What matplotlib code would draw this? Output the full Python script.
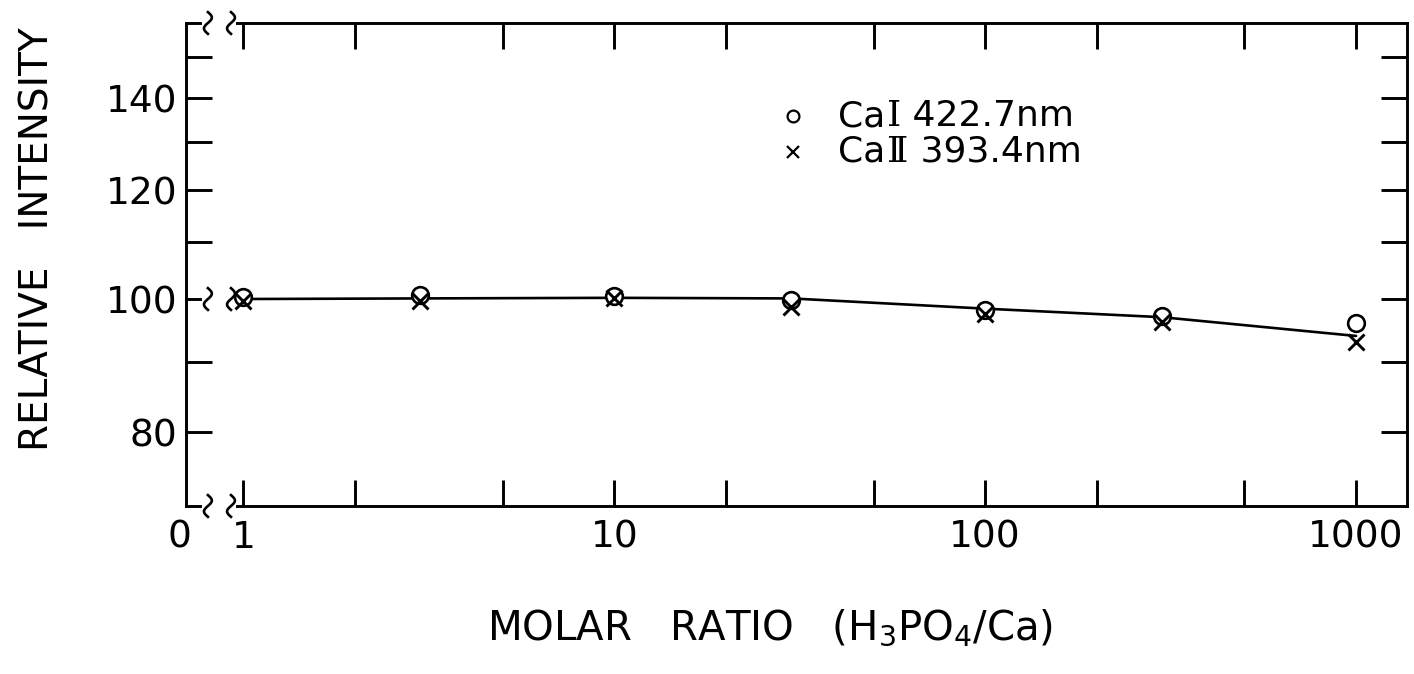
import numpy as np
import matplotlib
matplotlib.use("Agg")
import matplotlib.pyplot as plt
from matplotlib.ticker import FixedLocator, FixedFormatter, NullFormatter

# Molar ratio H3PO4/Ca and relative emission intensities
ratio = [1, 3, 10, 30, 100, 300, 1000]
ca1_422 = [100.3, 100.7, 100.5, 99.8, 98.1, 97.2, 96.0]
ca2_393 = [99.7, 99.6, 100.1, 98.6, 97.6, 96.2, 93.0]
trend = [100.0, 100.1, 100.2, 100.1, 98.4, 97.0, 94.0]

x_major = [1, 10, 100, 1000]
x_major_labels = ["1", "10", "100", "1000"]
x_minor = [2, 5, 20, 50, 200, 500]
y_major = [80, 100, 120, 140]
y_major_labels = ["80", "100", "120", "140"]
y_minor = [90, 110, 130, 150]

# key entries: element, ionisation stage, wavelength
key_element = ["Ca", "Ca"]
key_stage = ["Ⅰ", "Ⅱ"]
key_wavelength = [" 422.7nm", " 393.4nm"]

X_LIM = (0.70, 1369)
Y_LIM = (70.7, 158.8)

LW = 2.1
FS_TICK = 27
FS_KEY = 26

fig = plt.figure(figsize=(14.14, 6.74), dpi=100)
ax = fig.add_axes([0.1315, 0.2493, 0.8633, 0.7166])
ax.set_xscale("log")
ax.set_yscale("log")
ax.set_xlim(*X_LIM)
ax.set_ylim(*Y_LIM)

# smooth trend line and the two data series
ax.plot(ratio, trend, color="black", lw=1.9, zorder=2, solid_capstyle="round")
ax.plot(ratio, ca1_422, ls="none", marker="o", ms=12, mfc="white",
        mec="black", mew=1.9, zorder=3)
ax.plot(ratio, ca2_393, ls="none", marker="x", ms=11, mec="black",
        mew=2.1, zorder=4)

# ticks
ax.xaxis.set_major_locator(FixedLocator(x_major))
ax.xaxis.set_major_formatter(FixedFormatter(x_major_labels))
ax.xaxis.set_minor_locator(FixedLocator(x_minor))
ax.xaxis.set_minor_formatter(NullFormatter())
ax.yaxis.set_major_locator(FixedLocator(y_major))
ax.yaxis.set_major_formatter(FixedFormatter(y_major_labels))
ax.yaxis.set_minor_locator(FixedLocator(y_minor))
ax.yaxis.set_minor_formatter(NullFormatter())
ax.tick_params(which="both", direction="in", length=19, width=LW,
               top=True, right=True, labelsize=FS_TICK, color="black")
ax.tick_params(axis="x", which="both", pad=10)
ax.tick_params(axis="y", which="both", pad=6)

# left tick at 100 is replaced by the broken reference line
for val, tk in zip(y_major, ax.yaxis.get_major_ticks()):
    if val == 100:
        tk.tick1line.set_visible(False)

for side in ("left", "right"):
    ax.spines[side].set_linewidth(LW)
for side in ("top", "bottom"):
    ax.spines[side].set_visible(False)

# broken top and bottom frame lines
STUB_END = 0.0115
SPINE_RESTART = 0.0418
SQUIGGLES = [0.018, 0.0369]
lkw = dict(color="black", lw=LW, transform=ax.transAxes, clip_on=False,
           solid_capstyle="projecting")
for yf in (0.0, 1.0):
    ax.plot([0, STUB_END], [yf, yf], **lkw)
    ax.plot([SPINE_RESTART, 1.0], [yf, yf], **lkw)

y100 = (np.log10(100) - np.log10(Y_LIM[0])) / (np.log10(Y_LIM[1]) - np.log10(Y_LIM[0]))
ax.plot([0, STUB_END], [y100, y100], **lkw)

t = np.linspace(0, 1, 60)
sq_dx = -0.0032 * np.sin(2 * np.pi * t)
sq_dy = (t - 0.5) * 0.045
skw = dict(color="black", lw=1.9, transform=ax.transAxes, clip_on=False)
for yf in (0.0, y100, 1.0):
    for xf in SQUIGGLES:
        ax.plot(xf + sq_dx, yf + sq_dy, **skw)

# zero label at the left end of the broken axis
ax.text(-0.005, -0.029, "0", transform=ax.transAxes, ha="center", va="top",
        fontsize=FS_TICK)

# key
key_rows = [0.807, 0.733]
ax.plot([0.497], [key_rows[0]], ls="none", marker="o", ms=8.5, mfc="none",
        mec="black", mew=1.6, transform=ax.transAxes)
ax.plot([0.497], [key_rows[1]], ls="none", marker="x", ms=8.5, mec="black",
        mew=1.6, transform=ax.transAxes)
for yr, el, st, wl in zip(key_rows, key_element, key_stage, key_wavelength):
    t1 = ax.text(0.534, yr, el, transform=ax.transAxes, ha="left",
                 va="center", fontsize=FS_KEY)
    t2 = ax.annotate(st, xy=(1.0, 0.0), xycoords=t1, xytext=(1.5, 0),
                     textcoords="offset points", ha="left", va="bottom",
                     fontsize=FS_KEY, family="DejaVu Serif")
    ax.annotate(wl, xy=(1.0, 0.0), xycoords=t2, ha="left", va="bottom",
                fontsize=FS_KEY)

fig.text(38 / 1414, 1 - 239 / 674, "RELATIVE   INTENSITY", rotation=90,
         ha="center", va="center", fontsize=28)
fig.text(770 / 1414, 0.052, "MOLAR   RATIO   (H$_3$PO$_4$/Ca)",
         ha="center", va="baseline", fontsize=29)

fig.savefig("out.png", dpi=100)
